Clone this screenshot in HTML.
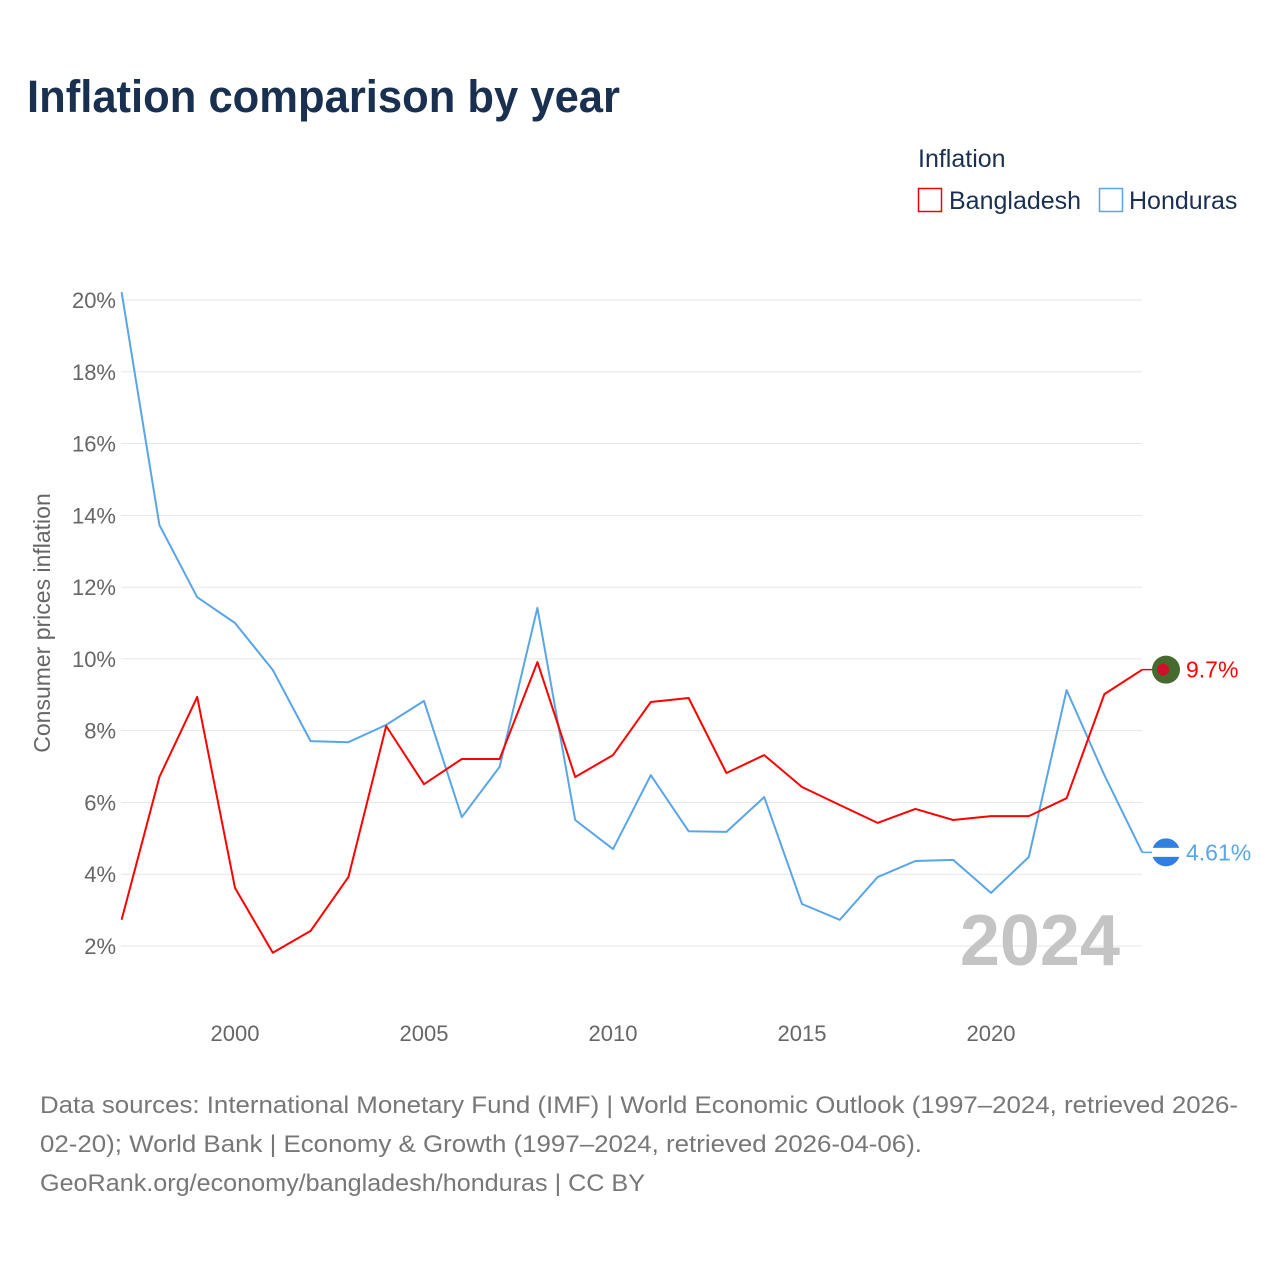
<!DOCTYPE html>
<html><head><meta charset="utf-8">
<style>
body{margin:0;background:#fff;font-family:"Liberation Sans",sans-serif;}
#wrap{position:relative;width:1280px;height:1280px;overflow:hidden;}
</style></head>
<body>
<div id="wrap">
<svg id="chart" width="1280" height="1280">
<text x="27" y="112" font-size="45" font-weight="bold" fill="#1a3050" textLength="593" lengthAdjust="spacingAndGlyphs">Inflation comparison by year</text>
<text x="918" y="167" font-size="25" fill="#1a3050">Inflation</text>
<g>
<rect x="918.5" y="188.5" width="23" height="23" fill="none" stroke="#e00" stroke-width="1.5"/>
<text x="949" y="209" font-size="25" fill="#1a3050">Bangladesh</text></g>
<g>
<rect x="1099.5" y="188.5" width="23" height="23" fill="none" stroke="#5aa5e8" stroke-width="1.5"/>
<text x="1129" y="209" font-size="25" fill="#1a3050">Honduras</text></g>
<text transform="translate(50,623) rotate(-90)" text-anchor="middle" font-size="23" fill="#666">Consumer prices inflation</text>
<g id="grid"></g><g id="yticks"></g><g id="xticks"></g>
<text x="1120" y="965" text-anchor="end" font-size="72" font-weight="bold" fill="#c4c4c4">2024</text>
<g id="lines"></g>
<g font-size="24" fill="#777">
<text x="40" y="1113" textLength="1198" lengthAdjust="spacingAndGlyphs">Data sources: International Monetary Fund (IMF) | World Economic Outlook (1997–2024, retrieved 2026-</text>
<text x="40" y="1152" textLength="882" lengthAdjust="spacingAndGlyphs">02-20); World Bank | Economy &amp; Growth (1997–2024, retrieved 2026-04-06).</text>
<text x="40" y="1191" textLength="605" lengthAdjust="spacingAndGlyphs">GeoRank.org/economy/bangladesh/honduras | CC BY</text>
</g>
</svg>
</div>
<script>
const years=[1997,1998,1999,2000,2001,2002,2003,2004,2005,2006,2007,2008,2009,2010,2011,2012,2013,2014,2015,2016,2017,2018,2019,2020,2021,2022,2023,2024];
const bangladesh=[2.73,6.71,8.94,3.62,1.81,2.42,3.92,8.13,6.51,7.21,7.21,9.91,6.71,7.32,8.80,8.91,6.82,7.32,6.43,5.93,5.43,5.82,5.51,5.62,5.62,6.12,9.02,9.70];
const honduras=[20.22,13.73,11.72,11.0,9.69,7.71,7.68,8.16,8.83,5.59,6.99,11.42,5.51,4.70,6.76,5.20,5.18,6.15,3.17,2.73,3.92,4.37,4.40,3.48,4.48,9.13,6.76,4.61];
const yTicks=[2,4,6,8,10,12,14,16,18,20];
const xTicks=[2000,2005,2010,2015,2020];
const NS="http://www.w3.org/2000/svg";
const X=y=>121.6+(y-1997)*37.8;
const Y=v=>300+(20-v)*35.89;
function mk(tag,attrs,parent){const e=document.createElementNS(NS,tag);for(const k in attrs)e.setAttribute(k,attrs[k]);parent.appendChild(e);return e;}
const grid=document.getElementById('grid'),yt=document.getElementById('yticks'),xt=document.getElementById('xticks'),lines=document.getElementById('lines');
yTicks.forEach(v=>{
  const l=mk('line',{x1:121,x2:1142,y1:Y(v),y2:Y(v),stroke:'#e6e6e6','stroke-width':1},grid);
  
  
  const t=mk('text',{x:116,y:Y(v)+8,'text-anchor':'end','font-size':22,fill:'#666'},yt);
  t.textContent=v+'%';
  
  
});
xTicks.forEach(v=>{
  const t=mk('text',{x:X(v),y:1041,'text-anchor':'middle','font-size':22,fill:'#666'},xt);
  t.textContent=v;
  
  
});
function series(vals,color,name,label,flagFill){
  const d=vals.map((v,i)=>(i?'L':'M')+X(years[i]).toFixed(1)+','+Y(v).toFixed(1)).join(' ');
  const p=mk('path',{d:d,fill:'none',stroke:color,'stroke-width':2,'stroke-linejoin':'round'},lines);
  
  
  const last=vals[vals.length-1],ly=Y(last);
  mk('line',{x1:X(2024),x2:1160,y1:ly,y2:ly,stroke:color,'stroke-width':1.5},lines);
  const c=mk('circle',{cx:1166,cy:ly,r:14,fill:flagFill},lines);
  
  
  if(name==='bangladesh'){mk('circle',{cx:1163,cy:ly,r:6,fill:'#d0102a'},lines);}
  else{mk('rect',{x:1152,y:ly-4.5,width:28,height:9,fill:'#fff'},lines);}
  const t=mk('text',{x:1186,y:ly+8,'font-size':23,fill:color},lines);
  t.textContent=label;
  
  
}
series(honduras,'#5aa5e8','honduras','4.61%','#2f80e0');
series(bangladesh,'#f00','bangladesh','9.7%','#476a2e');
</script>
</body></html>
